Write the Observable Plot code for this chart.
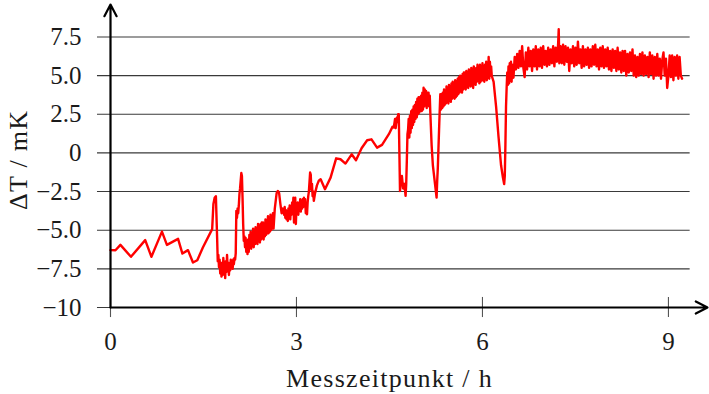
<!DOCTYPE html>
<html><head><meta charset="utf-8">
<script src="https://cdn.jsdelivr.net/npm/d3@7"></script>
<script src="https://cdn.jsdelivr.net/npm/@observablehq/plot@0.6"></script>
<style>body{margin:0;background:#fff}</style>
</head><body><div id="chart"></div>
<script>
const hours = [
  0, 0.08, 0.16, 0.33, 0.56, 0.66, 0.83, 0.91, 1.09, 1.16,
  1.25, 1.33, 1.40, 1.49, 1.64, 1.66, 1.68, 1.70, 1.72, 1.73,
  1.74, 1.75, 1.76, 1.77, 1.78, 1.79, 1.80, 1.81, 1.82, 1.83,
  1.84, 1.85, 1.86, 1.87, 1.88, 1.89, 1.90, 1.91, 1.92, 1.93,
  1.94, 1.95, 1.96, 1.97, 1.98, 1.99, 2.00, 2.01, 2.02, 2.03,
  2.04, 2.05, 2.06, 2.07, 2.08, 2.09, 2.10, 2.11, 2.12, 2.13,
  2.14, 2.15, 2.16, 2.17, 2.18, 2.19, 2.20, 2.21, 2.22, 2.23,
  2.24, 2.25, 2.26, 2.27, 2.28, 2.29, 2.30, 2.31, 2.32, 2.33,
  2.34, 2.35, 2.36, 2.37, 2.38, 2.39, 2.40, 2.41, 2.42, 2.43,
  2.44, 2.45, 2.46, 2.47, 2.48, 2.49, 2.50, 2.51, 2.52, 2.53,
  2.54, 2.55, 2.56, 2.57, 2.58, 2.59, 2.60, 2.61, 2.62, 2.63,
  2.65, 2.68, 2.70, 2.72, 2.74, 2.76, 2.78, 2.80, 2.81, 2.82,
  2.83, 2.84, 2.85, 2.86, 2.87, 2.88, 2.89, 2.90, 2.91, 2.92,
  2.93, 2.94, 2.95, 2.96, 2.97, 2.98, 2.99, 3.00, 3.01, 3.02,
  3.03, 3.04, 3.05, 3.06, 3.07, 3.08, 3.09, 3.10, 3.11, 3.12,
  3.13, 3.14, 3.15, 3.16, 3.17, 3.18, 3.19, 3.20, 3.22, 3.23,
  3.24, 3.25, 3.26, 3.27, 3.28, 3.30, 3.33, 3.36, 3.39, 3.46,
  3.55, 3.64, 3.71, 3.79, 3.89, 3.96, 4.05, 4.14, 4.21, 4.30,
  4.38, 4.49, 4.55, 4.57, 4.59, 4.60, 4.62, 4.63, 4.64, 4.65,
  4.66, 4.67, 4.68, 4.70, 4.72, 4.74, 4.76, 4.77, 4.78, 4.79,
  4.80, 4.81, 4.82, 4.83, 4.84, 4.85, 4.86, 4.87, 4.88, 4.89,
  4.90, 4.91, 4.92, 4.93, 4.94, 4.95, 4.96, 4.97, 4.98, 4.99,
  5.00, 5.01, 5.02, 5.03, 5.04, 5.05, 5.06, 5.07, 5.08, 5.09,
  5.10, 5.11, 5.12, 5.13, 5.14, 5.15, 5.16, 5.18, 5.20, 5.22,
  5.24, 5.26, 5.27, 5.28, 5.30, 5.31, 5.32, 5.33, 5.34, 5.35,
  5.36, 5.37, 5.38, 5.39, 5.40, 5.41, 5.42, 5.43, 5.44, 5.45,
  5.46, 5.47, 5.48, 5.49, 5.50, 5.51, 5.52, 5.53, 5.54, 5.55,
  5.56, 5.57, 5.58, 5.59, 5.60, 5.61, 5.62, 5.63, 5.64, 5.65,
  5.66, 5.67, 5.68, 5.69, 5.70, 5.71, 5.72, 5.73, 5.74, 5.75,
  5.76, 5.77, 5.78, 5.79, 5.80, 5.81, 5.82, 5.83, 5.84, 5.85,
  5.86, 5.87, 5.88, 5.89, 5.90, 5.91, 5.92, 5.93, 5.94, 5.95,
  5.96, 5.97, 5.98, 5.99, 6.00, 6.01, 6.02, 6.03, 6.04, 6.05,
  6.06, 6.07, 6.08, 6.09, 6.10, 6.11, 6.12, 6.13, 6.14, 6.15,
  6.18, 6.22, 6.26, 6.30, 6.33, 6.35, 6.36, 6.37, 6.38, 6.39,
  6.40, 6.41, 6.42, 6.43, 6.44, 6.45, 6.46, 6.47, 6.48, 6.49,
  6.50, 6.52, 6.54, 6.56, 6.58, 6.60, 6.62, 6.64, 6.66, 6.68,
  6.70, 6.72, 6.74, 6.76, 6.78, 6.80, 6.82, 6.84, 6.86, 6.88,
  6.90, 6.92, 6.94, 6.96, 6.98, 7.00, 7.02, 7.04, 7.06, 7.08,
  7.10, 7.12, 7.14, 7.16, 7.18, 7.20, 7.22, 7.23, 7.24, 7.26,
  7.28, 7.30, 7.32, 7.34, 7.36, 7.38, 7.40, 7.42, 7.44, 7.46,
  7.48, 7.50, 7.52, 7.54, 7.56, 7.58, 7.60, 7.62, 7.64, 7.66,
  7.68, 7.70, 7.72, 7.74, 7.76, 7.78, 7.80, 7.82, 7.84, 7.86,
  7.88, 7.90, 7.92, 7.94, 7.96, 7.98, 8.00, 8.02, 8.04, 8.06,
  8.08, 8.10, 8.12, 8.14, 8.16, 8.18, 8.20, 8.22, 8.24, 8.26,
  8.28, 8.30, 8.32, 8.34, 8.36, 8.38, 8.40, 8.42, 8.44, 8.46,
  8.48, 8.50, 8.52, 8.54, 8.56, 8.58, 8.60, 8.62, 8.64, 8.66,
  8.68, 8.70, 8.72, 8.74, 8.76, 8.78, 8.80, 8.82, 8.84, 8.86,
  8.88, 8.90, 8.92, 8.94, 8.96, 8.98, 9.00, 9.02, 9.04, 9.06,
  9.08, 9.10, 9.12, 9.14, 9.16, 9.18, 9.20, 9.22
];
const deltaT = [
  -6.29, -6.3, -5.95, -6.72, -5.64, -6.72, -5.09, -5.95, -5.56, -6.51,
  -6.29, -7.09, -6.94, -6.12, -4.93, -3.3, -2.9, -2.8, -5.5, -7.0,
  -6.6, -7.4, -6.9, -7.8, -7.1, -8.0, -7.3, -7.9, -6.8, -7.6,
  -7.2, -8.1, -7.0, -7.7, -6.6, -7.5, -7.1, -7.9, -7.2, -7.6,
  -6.9, -7.4, -7.0, -7.5, -6.9, -7.2, -6.8, -6.9, -6.5, -3.75,
  -4.2, -3.6, -3.9, -3.4, -2.67, -2.3, -1.8, -1.3, -1.5, -2.9,
  -4.6, -5.69, -5.4, -6.1, -5.5, -6.4, -5.8, -6.55, -5.6, -6.4,
  -5.3, -6.1, -5.1, -6.2, -5.2, -6.0, -4.9, -6.1, -5.0, -5.9,
  -4.8, -5.8, -5.0, -5.9, -4.6, -5.7, -4.8, -5.8, -4.6, -5.6,
  -4.5, -5.5, -4.5, -5.6, -4.6, -5.4, -4.3, -5.3, -4.4, -5.2,
  -4.1, -5.2, -4.3, -5.1, -4.0, -5.0, -4.2, -4.9, -3.9, -4.9,
  -3.6, -2.6, -2.46, -2.6, -3.3, -3.9, -3.6, -4.0, -3.5, -4.2,
  -3.7, -4.3, -3.8, -4.4, -3.6, -4.1, -3.4, -4.3, -3.5, -4.0,
  -3.2, -3.9, -2.9, -4.5, -3.6, -2.9, -4.6, -3.5, -3.9, -3.2,
  -4.0, -3.3, -3.7, -3.0, -3.8, -3.1, -3.6, -3.0, -3.5, -2.9,
  -3.4, -3.0, -3.9, -3.5, -3.97, -3.2, -2.8, -2.5, -1.27, -1.4,
  -2.4, -2.0, -2.8, -2.5, -3.1, -2.6, -2.1, -1.8, -1.70, -2.35,
  -1.60, -0.35, -0.41, -0.69, -0.09, -0.47, 0.3, 0.82, 0.88, 0.34,
  0.52, 1.21, 1.7, 1.64, 2.2, 1.6, 2.3, 2.0, 2.5, 2.5,
  0, -2.46, -2.0, -1.49, -2.3, -2.0, -2.78, -2.0, -0.5, 1.21,
  1.5, 2.2, 1.0, 2.4, 1.3, 2.7, 1.6, 2.8, 1.8, 3.0,
  2.0, 3.1, 2.2, 3.3, 2.3, 3.5, 2.5, 3.6, 2.6, 3.6,
  2.7, 3.7, 2.7, 3.9, 2.8, 4.22, 3.0, 4.1, 3.1, 4.0,
  2.9, 3.9, 3.1, 3.9, 3.0, 3.7, 2.5, 0.5, -0.8, -1.5,
  -2.2, -2.89, -1.8, -0.95, 1.5, 2.7, 3.79, 2.8, 3.8, 2.9,
  3.9, 3.0, 4.1, 3.1, 4.0, 3.2, 4.3, 3.3, 4.1, 3.2,
  4.4, 3.4, 4.3, 3.3, 4.5, 3.5, 4.6, 3.6, 4.4, 3.5,
  4.7, 3.6, 4.6, 3.7, 4.8, 3.8, 4.9, 3.9, 5.0, 4.0,
  4.8, 3.9, 5.1, 4.1, 5.2, 4.2, 5.2, 4.1, 5.3, 4.3,
  5.2, 4.2, 5.4, 4.4, 5.3, 4.3, 5.5, 4.4, 5.3, 4.2,
  5.6, 4.5, 5.4, 4.4, 5.5, 4.6, 5.7, 4.7, 5.5, 4.5,
  5.7, 4.6, 5.6, 4.7, 5.8, 4.7, 5.6, 4.6, 5.7, 4.8,
  5.9, 4.7, 5.8, 4.9, 6.2, 4.8, 5.9, 5.0, 5.6, 4.98,
  4.6, 3.0, 1.0, -0.8, -1.6, -2.02, -1.5, 0.5, 3.0, 4.22,
  5.2, 4.4, 5.6, 4.5, 5.8, 4.7, 5.9, 4.6, 5.7, 4.9,
  4.87, 6.2, 5.4, 6.4, 5.5, 6.6, 5.6, 6.9, 5.5, 4.9,
  6.5, 5.4, 6.8, 5.6, 6.6, 5.3, 6.7, 5.6, 6.9, 5.4,
  6.7, 5.6, 6.8, 5.5, 6.9, 5.7, 6.6, 5.6, 6.8, 5.7,
  6.7, 5.8, 6.9, 5.6, 6.8, 5.9, 7.0, 8.0, 5.8, 6.9,
  5.8, 7.0, 5.7, 6.9, 5.9, 6.8, 5.3, 6.7, 5.8, 6.9,
  5.6, 6.8, 5.7, 7.2, 5.8, 6.7, 5.5, 6.9, 5.6, 6.7,
  5.7, 6.8, 5.5, 6.7, 5.6, 6.9, 5.7, 7.0, 5.6, 6.7,
  5.4, 6.8, 5.6, 6.9, 5.5, 6.7, 5.6, 6.8, 5.4, 6.6,
  5.3, 6.7, 5.5, 6.6, 5.3, 6.8, 5.4, 6.5, 5.2, 6.6,
  5.3, 6.6, 5.0, 6.4, 5.2, 6.5, 5.3, 6.7, 5.0, 6.3,
  4.9, 6.2, 5.0, 6.4, 5.1, 6.5, 5.0, 6.3, 5.1, 6.2,
  4.9, 6.5, 5.1, 6.3, 4.8, 6.2, 5.0, 6.4, 5.0, 6.1,
  4.8, 6.0, 6.5, 5.0, 6.1, 4.2, 5.0, 6.3, 4.9, 6.3,
  4.7, 6.2, 5.0, 6.3, 4.8, 6.2, 5.0, 4.8
];
const xTicks = [0, 3, 6, 9];
const xTickLabels = ["0", "3", "6", "9"];
const yTicks = [-10, -7.5, -5, -2.5, 0, 2.5, 5, 7.5];
const yTickLabels = ["\u221210", "\u22127.5", "\u22125.0", "\u22122.5", "0", "2.5", "5.0", "7.5"];
const xLabel = "Messzeitpunkt / h";
const yLabel = "\u0394T / mK";

const data = hours.map((h, i) => ({h, t: deltaT[i]}));
const font = "Liberation Serif";
const txt = {fontFamily: font, fontSize: 25, fill: "#1a1a1a"};

const chart = Plot.plot({
  width: 709,
  height: 394,
  marginLeft: 110,
  marginRight: 2,
  marginTop: 4,
  marginBottom: 87,
  x: {domain: [0, 9.63], axis: null},
  y: {domain: [-10, 9.6], axis: null},
  style: {fontFamily: font, background: "white", overflow: "visible"},
  marks: [
    Plot.ruleY(yTicks, {x1: -0.21, x2: 9.35, stroke: "#3a3a3a", strokeWidth: 1.1}),
    Plot.ruleX(xTicks, {y1: -10.65, y2: -9.35, stroke: "#555", strokeWidth: 1.1}),
    Plot.line(data, {x: "h", y: "t", stroke: "#ff0000", strokeWidth: 2.4, strokeLinejoin: "round"}),
    Plot.arrow([0], {x1: 0, y1: -10, x2: 9.63, y2: -10, stroke: "black", strokeWidth: 2.2, headLength: 9, headAngle: 55}),
    Plot.arrow([0], {x1: 0, y1: -10, x2: 0, y2: 9.6, stroke: "black", strokeWidth: 2.2, headLength: 9, headAngle: 55}),
    Plot.text(yTicks, {x: 0, y: d => d, text: (d, i) => yTickLabels[i], textAnchor: "end", dx: -29, ...txt}),
    Plot.text(xTicks, {x: d => d, y: -10, text: (d, i) => xTickLabels[i], dy: 34, ...txt}),
    Plot.text([xLabel], {x: 4.5, y: -10, dy: 71, ...txt, fontSize: 26}),
    Plot.text([yLabel], {x: 0, y: -0.45, dx: -92, rotate: -90, ...txt, fontSize: 26})
  ]
});
d3.select(chart).selectAll("text")
  .filter(function() { const s = this.textContent; return s === xLabel || s === yLabel; })
  .attr("letter-spacing", "1.3px");
document.getElementById("chart").appendChild(chart);
</script>
</body></html>
